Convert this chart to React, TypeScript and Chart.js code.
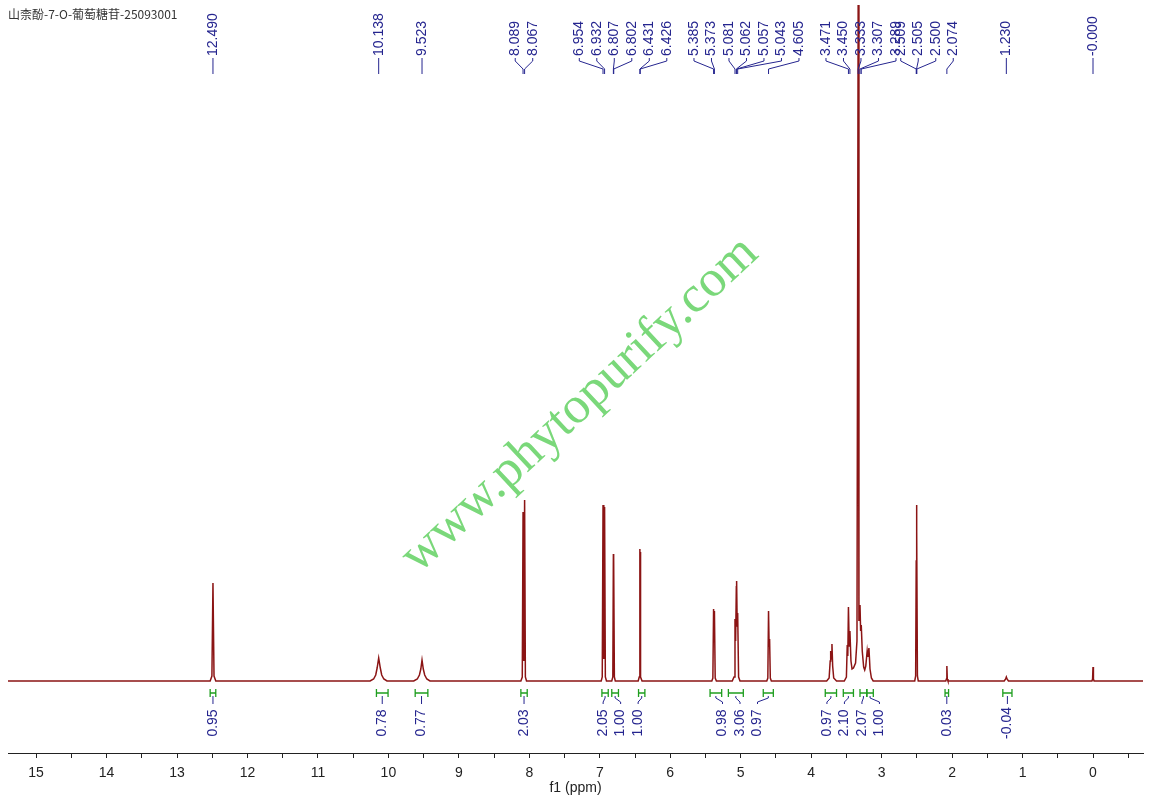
import React, { useEffect, useRef } from 'react';
import { Chart, registerables } from 'chart.js';

Chart.register(...registerables);

// ---------- text ----------
const TITLE = '山柰酚-7-O-葡萄糖苷-25093001';
const WATERMARK = 'www.phytopurify.com';
const X_TITLE = 'f1 (ppm)';

// ---------- axis range (ppm) ----------
const X_MIN = -0.7096;
const X_MAX = 15.399;

// ---------- spectrum vertices (ppm, intensity) ----------
const SPEC_PPM = [
  15.6,
  12.53, 12.505, 12.49, 12.475, 12.45,
  10.26, 10.21, 10.18, 10.16, 10.138, 10.115, 10.095, 10.065, 10.02,
  9.64, 9.59, 9.56, 9.54, 9.523, 9.505, 9.485, 9.455, 9.41,
  8.12, 8.1, 8.089, 8.078, 8.067, 8.056, 8.04,
  6.98, 6.965, 6.954, 6.943, 6.932, 6.921, 6.905,
  6.83, 6.815, 6.807, 6.8045, 6.802, 6.793, 6.78,
  6.455, 6.44, 6.431, 6.4285, 6.426, 6.417, 6.4,
  5.41, 5.395, 5.385, 5.379, 5.373, 5.362, 5.345,
  5.12, 5.095, 5.081, 5.072, 5.062, 5.059, 5.057, 5.05, 5.043, 5.03, 5.01,
  4.63, 4.615, 4.605, 4.597, 4.59, 4.58, 4.565,
  3.78, 3.745, 3.73, 3.723, 3.714, 3.705, 3.695, 3.68, 3.64,
  3.53, 3.5, 3.488, 3.48, 3.471, 3.46, 3.45, 3.435, 3.42, 3.4, 3.37, 3.35, 3.333, 3.322, 3.307, 3.298, 3.289, 3.275, 3.255, 3.24, 3.225, 3.205, 3.195, 3.18, 3.165, 3.145, 3.12,
  2.53, 2.517, 2.509, 2.505, 2.5, 2.492, 2.48,
  2.09, 2.08, 2.074, 2.068, 2.058,
  1.26, 1.24, 1.23, 1.22, 1.2,
  0.015, 0.006, 0, -0.006, -0.015,
  -0.8,
];
const SPEC_INT = [
  0,
  0, 5, 98, 5, 0,
  0, 2, 6, 13, 23, 13, 6, 2, 0,
  0, 2, 6, 12, 21, 12, 6, 2, 0,
  0, 4, 169, 20, 181, 4, 0,
  0, 4, 176, 22, 174, 4, 0,
  0, 4, 127, 110, 124, 4, 0,
  0, 4, 132, 115, 129, 4, 0,
  0, 3, 72, 40, 70, 3, 0,
  0, 4, 62, 40, 95, 85, 100, 55, 68, 4, 0,
  0, 3, 70, 35, 42, 3, 0,
  0, 3, 20, 30, 22, 37, 15, 3, 0,
  0, 4, 36, 25, 74, 35, 50, 20, 12, 13, 18, 40, 676, 60, 76, 50, 56, 30, 14, 11, 15, 30, 24, 33, 12, 3, 0,
  0, 5, 120, 176, 150, 5, 0,
  0, 2, 15, 2, 0,
  0, 2, 4, 2, 0,
  0, 2, 14, 2, 0,
  0,
];

// ---------- peak labels (grouped as in the reference) ----------
const PEAK_LABEL_GROUPS = [
  ['12.490'],
  ['10.138'],
  ['9.523'],
  ['8.089', '8.067'],
  ['6.954', '6.932', '6.807', '6.802', '6.431', '6.426'],
  ['5.385', '5.373', '5.081', '5.062', '5.057', '5.043', '4.605'],
  ['3.471', '3.450', '3.333', '3.307', '3.289'],
  ['2.509', '2.505', '2.500', '2.074'],
  ['1.230'],
  ['-0.000'],
];
// where each label group is centred (ppm) – layout, not data
const PEAK_GROUP_CENTER_PPM = [12.49, 10.138, 9.523, 8.076, 6.67, 4.918, 3.293, 2.356, 1.23, 0];

// ---------- integrals ----------
const INTEGRAL_FROM = [12.53, 10.17, 9.62, 8.12, 6.97, 6.83, 6.45, 5.435, 5.175, 4.68, 3.8, 3.544, 3.307, 3.21, 2.1, 1.28];
const INTEGRAL_TO = [12.45, 10.005, 9.44, 8.03, 6.88, 6.735, 6.36, 5.27, 4.963, 4.537, 3.64, 3.4, 3.21, 3.118, 2.05, 1.15];
const INTEGRAL_VALUES = ['0.95', '0.78', '0.77', '2.03', '2.05', '1.00', '1.00', '0.98', '3.06', '0.97', '0.97', '2.10', '2.07', '1.00', '0.03', '-0.04'];

// ---------- styles ----------
const SANS = '"Liberation Sans", Arial, sans-serif';
const NAVY = '#25258f';
const GREEN = '#1f9e1f';
const SPEC_COLOR = '#8b1414';
const AXIS_COLOR = '#222222';
const LABEL_SPACING = 17.5;

function spreadLabels(desired: number[], spacing: number, mergeDist: number): number[] {
  type G = { start: number; n: number; center: number };
  let groups: G[] = desired.map((d, i) => ({ start: i, n: 1, center: d }));
  let merged = true;
  while (merged) {
    merged = false;
    for (let g = 0; g < groups.length - 1; g++) {
      const a = groups[g];
      const b = groups[g + 1];
      const aRight = a.center + ((a.n - 1) / 2) * spacing;
      const bLeft = b.center - ((b.n - 1) / 2) * spacing;
      if (bLeft - aRight < mergeDist) {
        const n = a.n + b.n;
        let sum = 0;
        for (let k = a.start; k < a.start + n; k++) sum += desired[k];
        groups.splice(g, 2, { start: a.start, n, center: sum / n });
        merged = true;
        break;
      }
    }
  }
  const out: number[] = [];
  groups.forEach((g) => {
    for (let i = 0; i < g.n; i++) out.push(g.center + (i - (g.n - 1) / 2) * spacing);
  });
  return out;
}

const nmrPlugin = {
  id: 'nmrAnnotations',
  beforeDatasetsDraw(chart: any) {
    const ctx = chart.ctx;
    ctx.save();
    ctx.translate(580, 405);
    ctx.rotate((-43 * Math.PI) / 180);
    ctx.font = '52px "Liberation Serif", "Times New Roman", serif';
    ctx.fillStyle = '#7ad87a';
    ctx.textAlign = 'center';
    ctx.textBaseline = 'middle';
    ctx.fillText(WATERMARK, 0, 0);
    ctx.restore();
  },
  afterDraw(chart: any) {
    const ctx = chart.ctx;
    const xs = chart.scales.x;

    // title
    ctx.save();
    ctx.fillStyle = '#333333';
    ctx.font = '12px "Noto Sans CJK SC", sans-serif';
    ctx.textBaseline = 'middle';
    ctx.textAlign = 'left';
    ctx.fillText(TITLE, 8, 14);
    ctx.restore();

    // peak labels
    ctx.save();
    ctx.strokeStyle = NAVY;
    ctx.fillStyle = NAVY;
    ctx.lineWidth = 1;
    ctx.font = '14px ' + SANS;
    PEAK_LABEL_GROUPS.forEach((group, gi) => {
      const n = group.length;
      const c = xs.getPixelForValue(PEAK_GROUP_CENTER_PPM[gi]);
      group.forEach((txt, i) => {
        const lx = c + (i - (n - 1) / 2) * LABEL_SPACING;
        const px = xs.getPixelForValue(parseFloat(txt));
        ctx.beginPath();
        ctx.moveTo(lx, 58);
        ctx.lineTo(lx, 61);
        ctx.lineTo(px, 69);
        ctx.lineTo(px, 74);
        ctx.stroke();
        ctx.save();
        ctx.translate(lx, 56);
        ctx.rotate(-Math.PI / 2);
        ctx.textAlign = 'left';
        ctx.textBaseline = 'middle';
        ctx.fillText(txt, 0, 0);
        ctx.restore();
      });
    });
    ctx.restore();

    // integrals
    const centers = INTEGRAL_FROM.map((f, i) => (xs.getPixelForValue(f) + xs.getPixelForValue(INTEGRAL_TO[i])) / 2);
    const labelX = spreadLabels(centers, LABEL_SPACING, 35);
    ctx.save();
    INTEGRAL_FROM.forEach((f, i) => {
      const x1 = xs.getPixelForValue(f);
      const x2 = xs.getPixelForValue(INTEGRAL_TO[i]);
      ctx.strokeStyle = GREEN;
      ctx.lineWidth = 1.3;
      ctx.beginPath();
      ctx.moveTo(x1, 693);
      ctx.lineTo(x2, 693);
      ctx.moveTo(x1, 689);
      ctx.lineTo(x1, 697);
      ctx.moveTo(x2, 689);
      ctx.lineTo(x2, 697);
      ctx.stroke();

      const bc = centers[i];
      const lx = labelX[i];
      ctx.strokeStyle = NAVY;
      ctx.lineWidth = 1;
      ctx.beginPath();
      ctx.moveTo(bc, 696);
      ctx.lineTo(bc, 698);
      ctx.lineTo(lx, 702);
      ctx.lineTo(lx, 704);
      ctx.stroke();

      ctx.save();
      ctx.fillStyle = NAVY;
      ctx.font = '14px ' + SANS;
      ctx.translate(lx, 723);
      ctx.rotate(-Math.PI / 2);
      ctx.textAlign = 'center';
      ctx.textBaseline = 'middle';
      ctx.fillText(INTEGRAL_VALUES[i], 0, 0);
      ctx.restore();
    });
    ctx.restore();
  },
};

export default function App() {
  const ref = useRef<HTMLCanvasElement | null>(null);

  useEffect(() => {
    if (!ref.current) return;
    const points = SPEC_PPM.map((x, i) => ({ x, y: SPEC_INT[i] }));
    const chart = new Chart(ref.current, {
      type: 'line',
      data: {
        datasets: [
          {
            data: points,
            borderColor: SPEC_COLOR,
            borderWidth: 1.5,
            pointRadius: 0,
            tension: 0,
            fill: false,
          },
        ],
      },
      options: {
        animation: false,
        responsive: false,
        events: [],
        layout: { padding: { left: 8, right: 6, top: 0, bottom: 7.5 } },
        plugins: {
          legend: { display: false },
          tooltip: { enabled: false },
          title: { display: false },
        },
        scales: {
          x: {
            type: 'linear',
            reverse: true,
            min: X_MIN,
            max: X_MAX,
            grid: {
              display: true,
              drawOnChartArea: false,
              drawTicks: true,
              tickLength: 5,
              color: AXIS_COLOR,
              lineWidth: 1,
            },
            border: { display: true, color: AXIS_COLOR, width: 1 },
            ticks: {
              stepSize: 0.5,
              autoSkip: false,
              includeBounds: false,
              maxRotation: 0,
              minRotation: 0,
              padding: 7,
              color: AXIS_COLOR,
              font: { family: SANS, size: 14 },
              callback: (v: any) => {
                const n = Number(v);
                return Math.abs(n - Math.round(n)) < 1e-6 ? String(Math.round(n)) : '';
              },
            },
            title: {
              display: true,
              text: X_TITLE,
              color: AXIS_COLOR,
              font: { family: SANS, size: 14 },
              padding: { top: -9.1, bottom: 0 },
            },
          },
          y: { display: false, min: -72, max: 681 },
        },
      } as any,
      plugins: [nmrPlugin as any],
    });
    return () => chart.destroy();
  }, []);

  return (
    <div style={{ position: 'fixed', left: 0, top: 0, width: 1149, height: 804, background: '#ffffff' }}>
      <canvas ref={ref} width={1149} height={804} style={{ display: 'block', width: 1149, height: 804 }} />
    </div>
  );
}
